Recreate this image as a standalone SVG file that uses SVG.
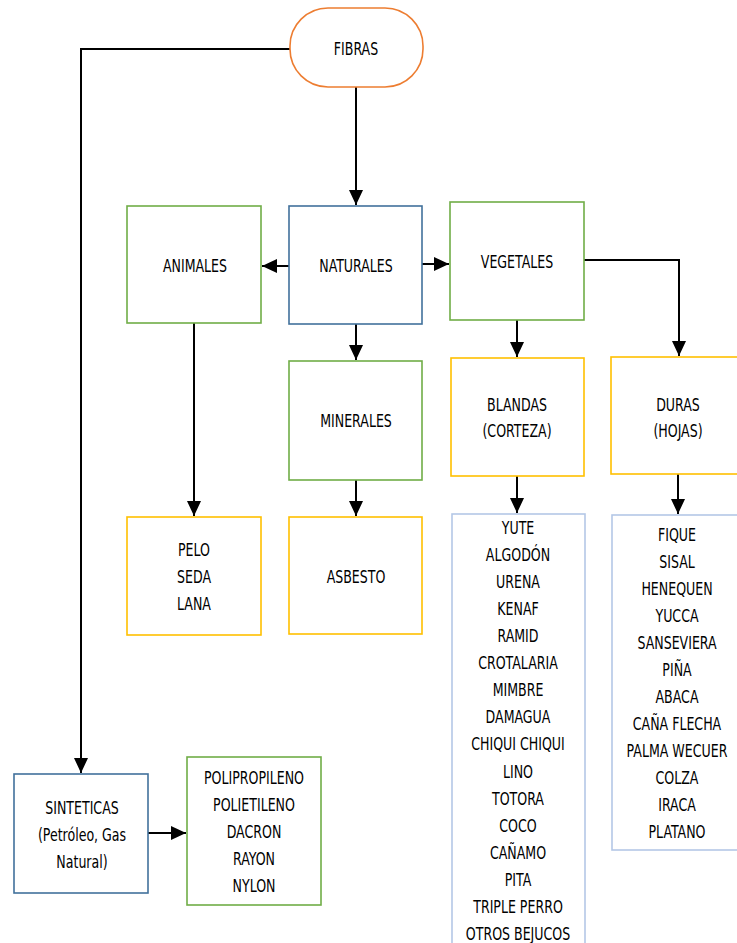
<svg xmlns="http://www.w3.org/2000/svg" width="737" height="943" viewBox="0 0 737 943">
<style>
text{font-family:"DejaVu Sans Condensed","DejaVu Sans","Liberation Sans",sans-serif;font-stretch:condensed;font-size:14px;fill:#000;text-anchor:middle}
.box{fill:#fff;stroke-width:1.6}
.or{stroke:#ED7D31}.gr{stroke:#70AD47}.bl{stroke:#41719C}.ye{stroke:#FFC000}.lb{stroke:#B4C7E7}
.c{fill:none;stroke:#000;stroke-width:2}
</style>
<defs>
<marker id="ah" markerUnits="userSpaceOnUse" markerWidth="16" markerHeight="14" refX="15" refY="7" orient="auto">
<path d="M0,0 L15,7 L0,14 Z" fill="#000"/>
</marker>
</defs>
<rect width="737" height="943" fill="#fff"/>
<g id="connectors">
<path class="c" d="M290,49 H81 V773" marker-end="url(#ah)"/>
<path class="c" d="M356,87 V205" marker-end="url(#ah)"/>
<path class="c" d="M289,266 H262" marker-end="url(#ah)"/>
<path class="c" d="M422,264 H449" marker-end="url(#ah)"/>
<path class="c" d="M584,260 H679 V356" marker-end="url(#ah)"/>
<path class="c" d="M517,320 V357" marker-end="url(#ah)"/>
<path class="c" d="M356,324 V360" marker-end="url(#ah)"/>
<path class="c" d="M194,323 V516" marker-end="url(#ah)"/>
<path class="c" d="M356,480 V516" marker-end="url(#ah)"/>
<path class="c" d="M517,476 V513" marker-end="url(#ah)"/>
<path class="c" d="M678,474 V514" marker-end="url(#ah)"/>
<path class="c" d="M148,833 H186" marker-end="url(#ah)"/>
</g>
<g id="fibras">
<rect class="box or" x="290" y="8" width="133" height="79" rx="38" ry="38"/>
<text transform="translate(356 55) scale(1 1.3)">FIBRAS</text>
</g>
<g id="animales">
<rect class="box gr" x="127" y="206" width="134" height="117"/>
<text transform="translate(195 272) scale(1 1.3)">ANIMALES</text>
</g>
<g id="naturales">
<rect class="box bl" x="289" y="206" width="133" height="118"/>
<text transform="translate(356 272) scale(1 1.3)">NATURALES</text>
</g>
<g id="vegetales">
<rect class="box gr" x="450" y="202" width="134" height="118"/>
<text transform="translate(517 268) scale(1 1.3)">VEGETALES</text>
</g>
<g id="minerales">
<rect class="box gr" x="289" y="361" width="133" height="119"/>
<text transform="translate(356 427) scale(1 1.3)">MINERALES</text>
</g>
<g id="blandas">
<rect class="box ye" x="451" y="358" width="133" height="118"/>
<text transform="translate(517 411) scale(1 1.3)">BLANDAS</text>
<text transform="translate(517 437) scale(1 1.3)">(CORTEZA)</text>
</g>
<g id="duras">
<rect class="box ye" x="611" y="357" width="134" height="117"/>
<text transform="translate(678 411) scale(1 1.3)">DURAS</text>
<text transform="translate(678 437) scale(1 1.3)">(HOJAS)</text>
</g>
<g id="pelo">
<rect class="box ye" x="127" y="517" width="134" height="118"/>
<text transform="translate(194 556) scale(1 1.3)">PELO</text>
<text transform="translate(194 583) scale(1 1.3)">SEDA</text>
<text transform="translate(194 610) scale(1 1.3)">LANA</text>
</g>
<g id="asbesto">
<rect class="box ye" x="289" y="517" width="133" height="117"/>
<text transform="translate(356 583) scale(1 1.3)">ASBESTO</text>
</g>
<g id="blandas-lista">
<rect class="box lb" x="452" y="514" width="133" height="440"/>
<text transform="translate(518 534) scale(1 1.3)">YUTE</text>
<text transform="translate(518 561) scale(1 1.3)">ALGODÓN</text>
<text transform="translate(518 588) scale(1 1.3)">URENA</text>
<text transform="translate(518 615) scale(1 1.3)">KENAF</text>
<text transform="translate(518 642) scale(1 1.3)">RAMID</text>
<text transform="translate(518 669) scale(1 1.3)">CROTALARIA</text>
<text transform="translate(518 696) scale(1 1.3)">MIMBRE</text>
<text transform="translate(518 723) scale(1 1.3)">DAMAGUA</text>
<text transform="translate(518 750) scale(1 1.3)">CHIQUI CHIQUI</text>
<text transform="translate(518 778) scale(1 1.3)">LINO</text>
<text transform="translate(518 805) scale(1 1.3)">TOTORA</text>
<text transform="translate(518 832) scale(1 1.3)">COCO</text>
<text transform="translate(518 859) scale(1 1.3)">CAÑAMO</text>
<text transform="translate(518 886) scale(1 1.3)">PITA</text>
<text transform="translate(518 913) scale(1 1.3)">TRIPLE PERRO</text>
<text transform="translate(518 940) scale(1 1.3)">OTROS BEJUCOS</text>
</g>
<g id="duras-lista">
<rect class="box lb" x="612" y="515" width="133" height="335"/>
<text transform="translate(677 541) scale(1 1.3)">FIQUE</text>
<text transform="translate(677 568) scale(1 1.3)">SISAL</text>
<text transform="translate(677 595) scale(1 1.3)">HENEQUEN</text>
<text transform="translate(677 622) scale(1 1.3)">YUCCA</text>
<text transform="translate(677 649) scale(1 1.3)">SANSEVIERA</text>
<text transform="translate(677 676) scale(1 1.3)">PIÑA</text>
<text transform="translate(677 703) scale(1 1.3)">ABACA</text>
<text transform="translate(677 730) scale(1 1.3)">CAÑA FLECHA</text>
<text transform="translate(677 757) scale(1 1.3)">PALMA WECUER</text>
<text transform="translate(677 784) scale(1 1.3)">COLZA</text>
<text transform="translate(677 811) scale(1 1.3)">IRACA</text>
<text transform="translate(677 838) scale(1 1.3)">PLATANO</text>
</g>
<g id="sinteticas">
<rect class="box bl" x="14" y="774" width="134" height="119"/>
<text transform="translate(82 814) scale(1 1.3)">SINTETICAS</text>
<text transform="translate(82 841) scale(1 1.3)">(Petróleo, Gas</text>
<text transform="translate(82 868) scale(1 1.3)">Natural)</text>
</g>
<g id="sinteticas-lista">
<rect class="box gr" x="187" y="757" width="134" height="148"/>
<text transform="translate(254 784) scale(1 1.3)">POLIPROPILENO</text>
<text transform="translate(254 811) scale(1 1.3)">POLIETILENO</text>
<text transform="translate(254 838) scale(1 1.3)">DACRON</text>
<text transform="translate(254 865) scale(1 1.3)">RAYON</text>
<text transform="translate(254 892) scale(1 1.3)">NYLON</text>
</g>
</svg>
